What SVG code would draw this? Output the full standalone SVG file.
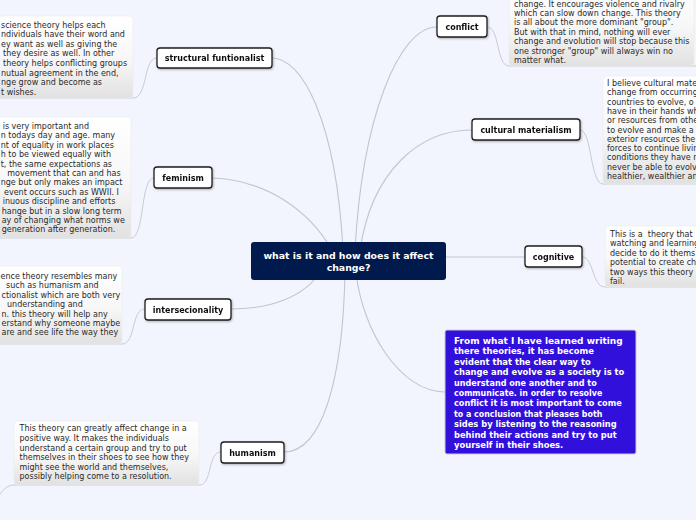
<svg xmlns="http://www.w3.org/2000/svg" width="696" height="520" viewBox="0 0 696 520">
<defs>
<linearGradient id="noteg" x1="0" y1="0" x2="0" y2="1">
<stop offset="0" stop-color="#ffffff"/>
<stop offset="0.55" stop-color="#f7f7f7"/>
<stop offset="1" stop-color="#e1e1e1"/>
</linearGradient>
<filter id="sh" x="-10%" y="-20%" width="130%" height="150%">
<feDropShadow dx="0.8" dy="1" stdDeviation="0.8" flood-color="#000" flood-opacity="0.3"/>
</filter>
</defs>
<style>
.bg{fill:#f2f5fd}
.con{fill:none;stroke:#c2c5cc;stroke-width:1.1}
.ncon{fill:none;stroke:#c8cbd2;stroke-width:1}
.node rect{fill:#fff;stroke:#1e1e1e;stroke-width:1.3}
.node text{font-family:"DejaVu Sans",sans-serif;font-size:8px;font-weight:bold;fill:#111;text-anchor:middle}
.note rect{fill:url(#noteg);stroke:#ebebef;stroke-width:0.6}
.note text{font-family:"DejaVu Sans",sans-serif;font-size:8px;fill:#2a2a2a}
.center rect{fill:#001a4d}
.center text{font-family:"DejaVu Sans",sans-serif;font-size:9.4px;font-weight:bold;fill:#fff;text-anchor:middle}
.blue rect{fill:#3110dc;stroke:#c9c9d4;stroke-width:1}
.blue text{font-family:"DejaVu Sans",sans-serif;font-size:8.6px;font-weight:bold;fill:#fff}
</style>
<rect class="bg" x="0" y="0" width="696" height="520"/>

<g id="connectors">
<path class="con" d="M212,178 C268,180 310,212 332,250"/>
<path class="con" d="M272,58 C302,58 336,120 343,250"/>
<path class="con" d="M437,27 C398,27 362,120 355,250"/>
<path class="con" d="M472,130 C420,130 372,170 360,250"/>
<path class="con" d="M440,257 L525,257"/>
<path class="con" d="M231,309 C272,309 305,296 320,272"/>
<path class="con" d="M284,452 C322,452 343,380 345,272"/>
<path class="con" d="M445,392 C400,392 362,330 356,272"/>
<path class="ncon" d="M157,58 C143,58 148,98 133,98 L0,98"/>
<path class="ncon" d="M154,178 C140,178 145,238 131,238 L0,238"/>
<path class="ncon" d="M145,309 C131,309 136,344 122,344 L0,344"/>
<path class="ncon" d="M221,452 C207,452 213,485 199,485 L14,485 C8,485 4,489 0,494"/>
<path class="ncon" d="M487,27 C500,27 496,66 509,66 L696,66"/>
<path class="ncon" d="M580,130 C592,130 590,184 603,184 L696,184"/>
<path class="ncon" d="M582,257 C594,257 592,287 605,287 L696,287"/>
</g>

<g id="note-structural" class="note">
<rect x="-10" y="16" width="143" height="82" rx="4"/>
<text x="1" y="27.5">science theory helps each</text>
<text x="1" y="37.1">ndividuals have their word and</text>
<text x="1" y="46.7">ey want as well as giving the</text>
<text x="3" y="56.3">they desire as well. In other</text>
<text x="3" y="65.9">theory helps conflicting groups</text>
<text x="1" y="75.5">nutual agreement in the end,</text>
<text x="1" y="85.1">nge grow and become as</text>
<text x="1" y="94.7">t wishes.</text>
</g>

<g id="note-feminism" class="note">
<rect x="-10" y="117" width="141" height="121" rx="4"/>
<text x="2.7" y="129">is very important and</text>
<text x="0.7" y="138.4">n todays day and age. many</text>
<text x="0.7" y="147.8">nt of equality in work places</text>
<text x="0.7" y="157.2">h to be viewed equally with</text>
<text x="0.7" y="166.6">t, the same expectations as</text>
<text x="7.3" y="176">movement that can and has</text>
<text x="0.7" y="185.4">nge but only makes an impact</text>
<text x="4" y="194.8">event occurs such as WWII. I</text>
<text x="2.7" y="204.2">inuous discipline and efforts</text>
<text x="1.7" y="213.6">hange but in a slow long term</text>
<text x="1.7" y="223">ay of changing what norms we</text>
<text x="1.7" y="232.4">generation after generation.</text>
</g>

<g id="note-intersecionality" class="note">
<rect x="-10" y="266" width="132" height="78" rx="4"/>
<text x="0.5" y="279">ence theory resembles many</text>
<text x="6" y="288.4">such as humanism and</text>
<text x="1.5" y="297.8">ctionalist which are both very</text>
<text x="7" y="307.2">understanding and</text>
<text x="1.5" y="316.6">n. this theory will help any</text>
<text x="1.5" y="326">erstand why someone maybe</text>
<text x="1.5" y="335.4">are and see life the way they</text>
</g>

<g id="note-humanism" class="note">
<rect x="14" y="421" width="185" height="64" rx="4"/>
<text x="19.5" y="431.3">This theory can greatly affect change in a</text>
<text x="19.5" y="440.9">positive way. It makes the individuals</text>
<text x="19.5" y="450.5">understand a certain group and try to put</text>
<text x="19.5" y="460.1">themselves in their shoes to see how they</text>
<text x="19.5" y="469.7">might see the world and themselves,</text>
<text x="19.5" y="479.3">possibly helping come to a resolution.</text>
</g>

<g id="note-conflict" class="note">
<rect x="509" y="-20" width="185" height="86" rx="4"/>
<text x="514" y="6.5">change. It encourages violence and rivalry</text>
<text x="514" y="15.9">which can slow down change. This theory</text>
<text x="514" y="25.3">is all about the more dominant "group".</text>
<text x="514" y="34.7">But with that in mind, nothing will ever</text>
<text x="514" y="44.1">change and evolution will stop because this</text>
<text x="514" y="53.5">one stronger "group" will always win no</text>
<text x="514" y="62.9">matter what.</text>
</g>

<g id="note-cultural" class="note">
<rect x="603" y="76" width="110" height="108" rx="4"/>
<text x="607" y="86">I believe cultural mate</text>
<text x="607" y="95.3">change from occurring</text>
<text x="607" y="104.6">countries to evolve, o</text>
<text x="607" y="113.9">have in their hands wh</text>
<text x="607" y="123.2">or resources from othe</text>
<text x="607" y="132.5">to evolve and make a</text>
<text x="607" y="141.8">exterior resources the</text>
<text x="607" y="151.1">forces to continue livin</text>
<text x="607" y="160.4">conditions they have n</text>
<text x="607" y="169.7">never be able to evolv</text>
<text x="607" y="179">healthier, wealthier an</text>
</g>

<g id="note-cognitive" class="note">
<rect x="605" y="226" width="100" height="61" rx="4"/>
<text x="610" y="236.5" xml:space="preserve">This is a  theory that</text>
<text x="610" y="246">watching and learning</text>
<text x="610" y="255.5">decide to do it thems</text>
<text x="610" y="265">potential to create ch</text>
<text x="610" y="274.5">two ways this theory</text>
<text x="610" y="284">fail.</text>
</g>

<g id="center" class="center">
<rect x="251" y="242" width="195" height="38" rx="3"/>
<text x="348.5" y="258.5">what is it and how does it affect</text>
<text x="348.5" y="271">change?</text>
</g>

<g id="node-structural" class="node" filter="url(#sh)">
<rect x="157" y="48" width="115" height="20" rx="3"/>
<text x="214.5" y="61">structural funtionalist</text>
</g>
<g id="node-feminism" class="node" filter="url(#sh)">
<rect x="154" y="167" width="58" height="21" rx="3"/>
<text x="183" y="180.5">feminism</text>
</g>
<g id="node-intersecionality" class="node" filter="url(#sh)">
<rect x="145" y="299" width="86" height="21" rx="3"/>
<text x="188" y="312.5">intersecionality</text>
</g>
<g id="node-humanism" class="node" filter="url(#sh)">
<rect x="221" y="442" width="63" height="21" rx="3"/>
<text x="252.5" y="455.5">humanism</text>
</g>
<g id="node-conflict" class="node" filter="url(#sh)">
<rect x="437" y="16" width="50" height="21" rx="3"/>
<text x="462" y="29.5">conflict</text>
</g>
<g id="node-cultural" class="node" filter="url(#sh)">
<rect x="472" y="119" width="108" height="21" rx="3"/>
<text x="526" y="132.5">cultural materialism</text>
</g>
<g id="node-cognitive" class="node" filter="url(#sh)">
<rect x="525" y="246" width="57" height="21" rx="3"/>
<text x="553.5" y="259.5">cognitive</text>
</g>

<g id="node-conclusion" class="blue">
<rect x="445" y="330" width="191" height="124" rx="2"/>
<text x="454" y="344" textLength="168.7" lengthAdjust="spacingAndGlyphs">From what I have learned writing</text>
<text x="454" y="354.4" textLength="140" lengthAdjust="spacingAndGlyphs">there theories, it has become</text>
<text x="454" y="364.8" textLength="136.7" lengthAdjust="spacingAndGlyphs">evident that the clear way to</text>
<text x="454" y="375.2" textLength="170.3" lengthAdjust="spacingAndGlyphs">change and evolve as a society is to</text>
<text x="454" y="385.6" textLength="142.7" lengthAdjust="spacingAndGlyphs">understand one another and to</text>
<text x="454" y="396" textLength="148.3" lengthAdjust="spacingAndGlyphs">communicate. in order to resolve</text>
<text x="454" y="406.4" textLength="167.7" lengthAdjust="spacingAndGlyphs">conflict it is most important to come</text>
<text x="454" y="416.8" textLength="148.3" lengthAdjust="spacingAndGlyphs">to a conclusion that pleases both</text>
<text x="454" y="427.2" textLength="162.7" lengthAdjust="spacingAndGlyphs">sides by listening to the reasoning</text>
<text x="454" y="437.6" textLength="162.7" lengthAdjust="spacingAndGlyphs">behind their actions and try to put</text>
<text x="454" y="448" textLength="109.3" lengthAdjust="spacingAndGlyphs">yourself in their shoes.</text>
</g>
</svg>
